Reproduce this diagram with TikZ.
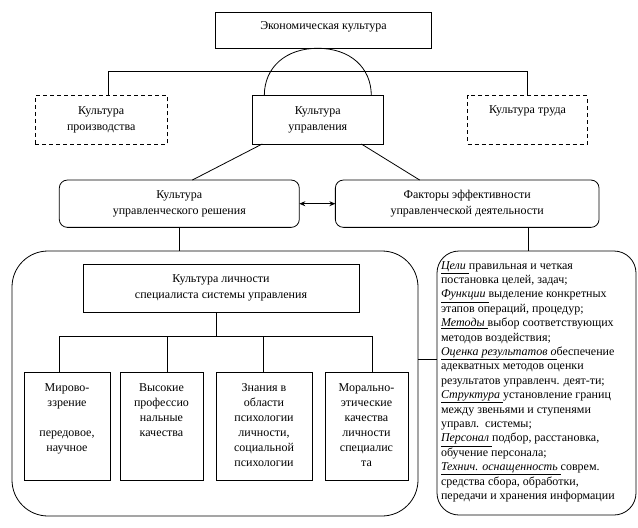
\documentclass[tikz,border=0pt]{standalone}
\usepackage{fontspec}
\setmainfont{Liberation Serif}
\usetikzlibrary{calc,arrows.meta}
\begin{document}
\begin{tikzpicture}[x=1pt,y=-1pt,
  every node/.style={inner sep=0pt, outer sep=0pt, font=\fontsize{12}{16}\selectfont, align=center},
  ln/.style={line width=0.8pt},
  sq/.style={draw, ln},
  dsh/.style={draw, ln, dash pattern=on 4pt off 3pt},
  rnd/.style={draw, ln, rounded corners=8pt},
  smallbox/.style={draw, ln, font=\fontsize{12}{15}\selectfont}]
\useasboundingbox (0,0) rectangle (638,528);

% top level
\node[sq, minimum width=215.6pt, minimum height=36pt] (econ) at (323.5,30.3) {\raisebox{3pt}[\height][\depth]{Экономическая культура}};
\node[dsh, minimum width=132.3pt, minimum height=48.3pt] (prod) at (101.2,119.8) {Культура\\производства};
\node[sq, minimum width=131pt, minimum height=48.3pt] (mgmt) at (317.8,119.8) {Культура\\управления};
\node[dsh, minimum width=119.6pt, minimum height=48.3pt] (labor) at (527.5,119.8) {Культура труда\\\strut};

% second row
\node[rnd, minimum width=240pt, minimum height=47.3pt] (dec) at (179.3,203.7) {Культура\\управленческого решения};
\node[rnd, minimum width=263.7pt, minimum height=47.3pt] (fac) at (467.2,203.7) {Факторы эффективности\\управленческой деятельности};

% big rounded container
\node[draw, ln, rounded corners=36pt, minimum width=406pt, minimum height=265pt] (big) at (215,383.5) {};
\node[sq, minimum width=276pt, minimum height=48pt] (pers) at (221,288) {Культура личности\\специалиста системы управления};

\node[smallbox] (b1) at (67,426) {\parbox[c][108pt][t]{86pt}{\centering\rule{0pt}{19pt}Мирово-\\ззрение\\[15pt]передовое,\\научное}};
\node[smallbox] (b2) at (161.5,426) {\parbox[c][108pt][t]{83pt}{\centering\rule{0pt}{19pt}Высокие\\профессио\\нальные\\качества}};
\node[smallbox] (b3) at (264,426) {\parbox[c][108pt][t]{96pt}{\centering\rule{0pt}{19pt}Знания в\\области\\психологии\\личности,\\социальной\\психологии}};
\node[smallbox] (b4) at (366.5,426) {\parbox[c][108pt][t]{83pt}{\centering\rule{0pt}{19pt}Морально-\\этические\\качества\\личности\\специалис\\та}};

% factors list
\node[draw, ln, rounded corners=22pt] (facts) at (536.5,383) {\parbox[c][264pt][t]{199pt}{\fontsize{12}{14.4}\selectfont\raggedright\leftskip=4pt\rule{0pt}{18pt}%
\underline{\textit{Цели }}правильная и четкая\\
постановка целей, задач;\\
\underline{\textit{Функции }}выделение конкретных\\
этапов операций, процедур;\\
\underline{\textit{Методы }}выбор соответствующих\\
методов воздействия;\\
\underline{\textit{Оценка результатов о}}беспечение\\
адекватных методов оценки\\
результатов управленч. деят-ти;\\
\underline{\textit{Структура }}установление границ\\
между звеньями и ступенями\\
управл.~~системы;\\
\underline{\textit{Персонал }}подбор, расстановка,\\
обучение персонала;\\
\underline{\textit{Технич. оснащенность }}соврем.\\
средства сбора, обработки,\\
передачи и хранения информации}};

% connectors: arc from management up to economic culture
\coordinate (apex) at (econ.south -| mgmt.north);
\draw[ln] ($(mgmt.north)+(-53.5,0)$) .. controls ($(mgmt.north)+(-53.5,-28.4)$) and ($(apex)+(-32,0)$) .. (apex)
  .. controls ($(apex)+(32,0)$) and ($(mgmt.north)+(53.5,-28.4)$) .. ($(mgmt.north)+(53.5,0)$);

% bracket over the three cultures
\coordinate (barL) at ($(prod.north)+(7,-24.7)$);
\draw[ln] ($(prod.north)+(7,0)$) -- (barL) -- (barL -| labor.north) -- (labor.north);

% diagonals
\draw[ln] ($(mgmt.south west)+(10,0)$) -- ($(dec.north)+(13,0)$);
\draw[ln] ($(mgmt.south east)+(-22,0)$) -- ($(fac.north)+(-47.5,0)$);

% double arrow
\draw[ln, {Stealth[length=6pt,width=5pt]}-{Stealth[length=6pt,width=5pt]}] (dec.east) -- (fac.west);

% verticals down
\draw[ln] (dec.south) -- (dec.south |- big.north);
\coordinate (fv) at ($(fac.south)+(61,0)$);
\draw[ln] (fv) -- (fv |- facts.north);

% inner tree
\coordinate (pv) at ($(pers.south)+(-5,0)$);
\draw[ln] (pv) -- ($(pv)+(0,24)$);
\foreach \b/\dx in {b1/-8, b2/5.5, b3/-1, b4/5.5}
  \draw[ln] ($(\b.north)+(\dx,0)$) -- ($(\b.north)+(\dx,-36)$);
\draw[ln] ($(b1.north)+(-8,-36)$) -- ($(b4.north)+(5.5,-36)$);

% link container to factors list
\coordinate (lk) at ($(big.east)+(0,-24.5)$);
\draw[ln] (lk) -- (lk -| facts.west);
\end{tikzpicture}
\end{document}
